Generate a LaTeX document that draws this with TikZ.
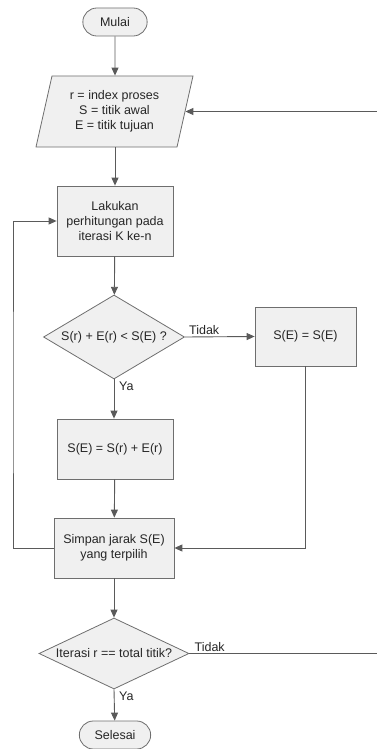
\documentclass[tikz,border=0pt]{standalone}
\usepackage{fontspec}
\setmainfont{Liberation Sans}
\usepackage{tikz}
\usetikzlibrary{shapes,arrows.meta,positioning}
\definecolor{garis}{HTML}{5A5A5A}
\definecolor{isi}{HTML}{F0F0F0}
\definecolor{tepi}{HTML}{6E6E6E}
\tikzset{
 dasar/.style={draw=tepi,fill=isi,line width=0.8pt,text=black!85,font=\fontsize{12.5}{15}\selectfont,align=center},
 terminal/.style={dasar,rounded rectangle,minimum width=71pt,minimum height=28pt},
 masukan/.style={dasar,trapezium,trapezium left angle=69,trapezium right angle=111,trapezium stretches body=true,minimum width=157pt,minimum height=71pt,inner sep=0pt},
 proses/.style={dasar,rectangle},
 cabang/.style={dasar,diamond,inner sep=0pt},
 panah/.style={draw=garis,line width=0.9pt,-{Triangle[length=8pt,width=7pt]}},
 ket/.style={font=\fontsize{12.5}{15}\selectfont,text=black!85,inner sep=1pt}
}

\begin{document}
\begin{tikzpicture}[x=1pt,y=-1pt]
 \useasboundingbox (0,0) rectangle (377,749);
 \node[terminal] (mulai) at (115,22) {Mulai};
 \node[masukan] (input) at (114.5,111.5) {r = index proses\\S = titik awal\\E = titik tujuan};
 \node[proses,minimum width=116pt,minimum height=70pt] (hitung) at (115,221) {Lakukan\\perhitungan pada\\iterasi K ke-n};
 \node[cabang,minimum width=141pt,minimum height=84pt,shape aspect=1.68] (cek1) at (114,337) {S(r) + E(r) < S(E) ?};
 \node[proses,minimum width=101pt,minimum height=59pt] (tetap) at (305.5,336.5) {S(E) = S(E)};
 \node[proses,minimum width=116pt,minimum height=60pt] (ganti) at (115,449) {S(E) = S(r) + E(r)};
 \node[proses,minimum width=120pt,minimum height=60pt] (simpan) at (114,548) {Simpan jarak S(E)\\yang terpilih};
 \node[cabang,minimum width=150pt,minimum height=71pt,shape aspect=2.1] (cek2) at (114,653.5) {Iterasi r == total titik?};
 \node[terminal,minimum width=78pt] (selesai) at (115,735) {Selesai};

 \coordinate (kiri) at (13,400);
 \coordinate (kanan) at (377,400);

 \draw[panah] (mulai) -- (mulai |- input.north);
 \draw[panah] (input.south -| hitung) -- (hitung);
 \draw[panah] (hitung) -- (cek1);
 \draw[panah] (cek1.east) -- (tetap.west);
 \draw[panah] (cek1.south) -- (ganti.north -| cek1.south);
 \draw[panah] (ganti) -- (simpan);
 \draw[panah] (tetap.south) |- (simpan.east);
 \draw[panah] (simpan.west) -| (kiri) |- (hitung.west);
 \draw[panah] (simpan) -- (cek2);
 \draw[panah] (cek2.east) -| (kanan) |- (input.east);
 \draw[panah] (cek2.south) -- (selesai);

 \node[ket,anchor=south west] (tidak1) at ([xshift=3pt,yshift=1pt]cek1.east) {Tidak};
 \node[ket,anchor=north west] (ya1) at ([xshift=4pt,yshift=-1pt]cek1.south) {Ya};
 \node[ket,anchor=south west] (tidak2) at ([xshift=4pt,yshift=1pt]cek2.east) {Tidak};
 \node[ket,anchor=north west] (ya2) at ([xshift=4pt,yshift=-1pt]cek2.south) {Ya};
\end{tikzpicture}
\end{document}
